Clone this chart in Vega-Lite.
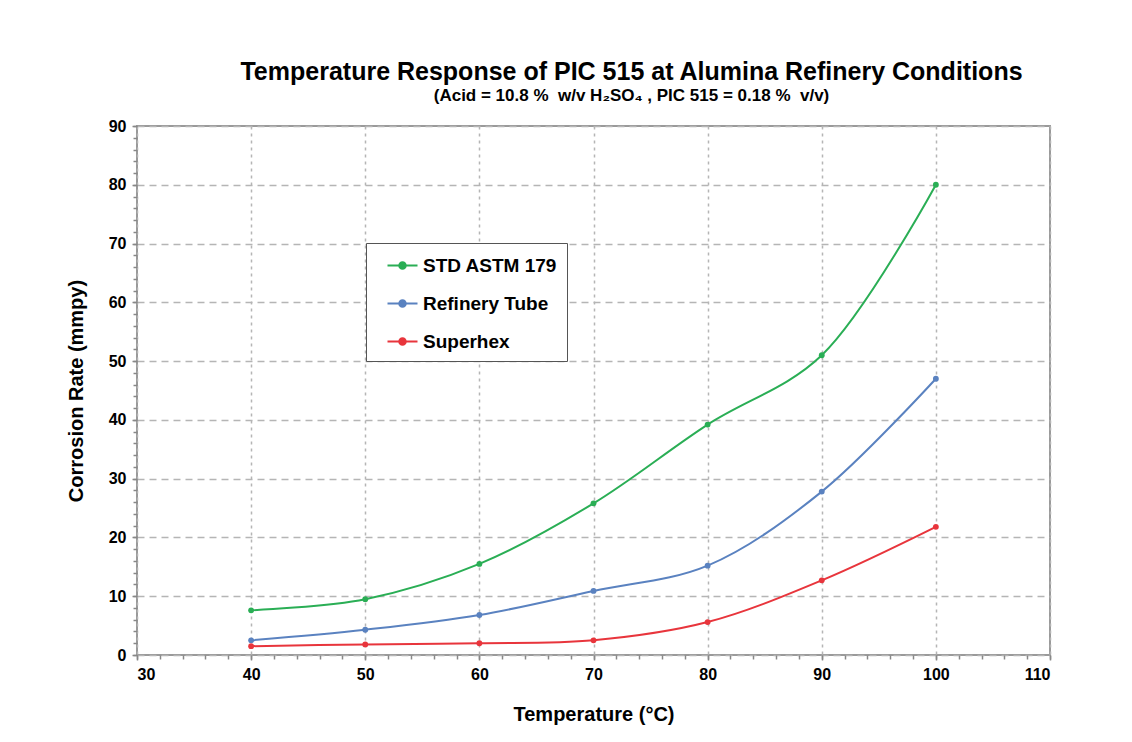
{
  "$schema": "https://vega.github.io/schema/vega-lite/v6.json",
  "width": 913,
  "height": 529,
  "autosize": {"type": "none"},
  "padding": {"left": 137, "top": 126, "right": 82, "bottom": 87},
  "background": "white",
  "config": {
    "view": {"stroke": "#9a9a9a", "strokeWidth": 2},
    "font": "Liberation Sans"
  },
  "title": {
    "text": "Temperature Response of PIC 515 at Alumina Refinery Conditions",
    "subtitle": "(Acid = 10.8 %\u00a0 w/v H₂SO₄ , PIC 515 = 0.18 %\u00a0 v/v)",
    "font": "Liberation Sans",
    "fontSize": 25,
    "fontWeight": "bold",
    "color": "#000000",
    "subtitleFont": "Liberation Sans",
    "subtitleFontSize": 17,
    "subtitleFontWeight": "bold",
    "subtitleColor": "#000000",
    "subtitlePadding": 3,
    "anchor": "middle",
    "frame": "group",
    "dx": 38,
    "offset": 14
  },
  "data": {
    "values": [
      {"temp": 40, "rate": 7.6, "series": "STD ASTM 179"},
      {"temp": 50, "rate": 9.5, "series": "STD ASTM 179"},
      {"temp": 60, "rate": 15.5, "series": "STD ASTM 179"},
      {"temp": 70, "rate": 25.8, "series": "STD ASTM 179"},
      {"temp": 80, "rate": 39.2, "series": "STD ASTM 179"},
      {"temp": 90, "rate": 51.0, "series": "STD ASTM 179"},
      {"temp": 100, "rate": 80.0, "series": "STD ASTM 179"},
      {"temp": 40, "rate": 2.5, "series": "Refinery Tube"},
      {"temp": 50, "rate": 4.3, "series": "Refinery Tube"},
      {"temp": 60, "rate": 6.8, "series": "Refinery Tube"},
      {"temp": 70, "rate": 10.9, "series": "Refinery Tube"},
      {"temp": 80, "rate": 15.2, "series": "Refinery Tube"},
      {"temp": 90, "rate": 27.8, "series": "Refinery Tube"},
      {"temp": 100, "rate": 47.0, "series": "Refinery Tube"},
      {"temp": 40, "rate": 1.5, "series": "Superhex"},
      {"temp": 50, "rate": 1.8, "series": "Superhex"},
      {"temp": 60, "rate": 2.0, "series": "Superhex"},
      {"temp": 70, "rate": 2.5, "series": "Superhex"},
      {"temp": 80, "rate": 5.6, "series": "Superhex"},
      {"temp": 90, "rate": 12.7, "series": "Superhex"},
      {"temp": 100, "rate": 21.8, "series": "Superhex"}
    ]
  },
  "layer": [
    {
      "mark": {"type": "line", "interpolate": "catmull-rom", "strokeWidth": 2},
      "encoding": {
        "x": {
          "field": "temp", "type": "quantitative",
          "scale": {"domain": [30, 110], "nice": false, "zero": false},
          "axis": {
            "orient": "bottom",
            "values": [30,32,34,36,38,40,42,44,46,48,50,52,54,56,58,60,62,64,66,68,70,72,74,76,78,80,82,84,86,88,90,92,94,96,98,100,102,104,106,108,110],
            "labels": false, "grid": false, "domain": false, "title": null,
            "ticks": true, "tickSize": 4, "tickColor": "#888", "tickWidth": 1.5
          }
        },
        "y": {
          "field": "rate", "type": "quantitative",
          "scale": {"domain": [0, 90], "nice": false},
          "axis": {
            "orient": "left",
            "values": [0,2,4,6,8,10,12,14,16,18,20,22,24,26,28,30,32,34,36,38,40,42,44,46,48,50,52,54,56,58,60,62,64,66,68,70,72,74,76,78,80,82,84,86,88,90],
            "labels": false, "grid": false, "domain": false, "title": null,
            "ticks": true, "tickSize": 4, "tickColor": "#888", "tickWidth": 1.5
          }
        },
        "color": {
          "field": "series", "type": "nominal",
          "scale": {
            "domain": ["STD ASTM 179", "Refinery Tube", "Superhex"],
            "range": ["#2aae55", "#5a82c0", "#e8353c"]
          },
          "legend": {
            "orient": "none",
            "legendX": 229,
            "legendY": 117,
            "title": null,
            "direction": "vertical",
            "strokeColor": "#555555",
            "fillColor": "white",
            "padding": 9,
            "rowPadding": 14,
            "symbolOffset": 14,
            "symbolType": "M-1.2,0H1.2M-0.26,0A0.26,0.26,0,1,1,0.26,0A0.26,0.26,0,1,1,-0.26,0",
            "symbolSize": 625,
            "symbolStrokeWidth": 2,
            "labelFont": "Liberation Sans",
            "labelFontSize": 19,
            "labelFontWeight": "bold",
            "labelColor": "#000000",
            "labelOffset": 7,
            "labelLimit": 300
          }
        },
        "detail": {"field": "series"}
      }
    },
    {
      "mark": {"type": "point", "filled": true, "size": 34, "opacity": 1},
      "encoding": {
        "x": {
          "field": "temp", "type": "quantitative",
          "axis": {
            "orient": "bottom",
            "values": [30, 40, 50, 60, 70, 80, 90, 100, 110],
            "title": "Temperature (°C)",
            "titleFont": "Liberation Sans",
            "titleFontSize": 20,
            "titleFontWeight": "bold",
            "titleColor": "#000000",
            "titlePadding": 22,
            "labelFont": "Liberation Sans",
            "labelFontSize": 16,
            "labelFontWeight": "bold",
            "labelColor": "#000000",
            "labelPadding": 6,
            "domain": false,
            "tickSize": 5,
            "tickColor": "#888",
            "tickWidth": 1.5,
            "grid": true,
            "gridColor": "#b5b5b5",
            "gridDash": [3, 4],
            "gridWidth": 1.5
          }
        },
        "y": {
          "field": "rate", "type": "quantitative",
          "axis": {
            "orient": "left",
            "values": [0, 10, 20, 30, 40, 50, 60, 70, 80, 90],
            "title": "Corrosion Rate (mmpy)",
            "titleFont": "Liberation Sans",
            "titleFontSize": 20,
            "titleFontWeight": "bold",
            "titleColor": "#000000",
            "titlePadding": 22,
            "labelFont": "Liberation Sans",
            "labelFontSize": 16,
            "labelFontWeight": "bold",
            "labelColor": "#000000",
            "labelPadding": 6,
            "domain": false,
            "tickSize": 5,
            "tickColor": "#888",
            "tickWidth": 1.5,
            "grid": true,
            "gridColor": "#b5b5b5",
            "gridDash": [7, 5],
            "gridWidth": 1.5
          }
        },
        "color": {"field": "series", "type": "nominal"}
      }
    }
  ],
  "resolve": {"axis": {"x": "independent", "y": "independent"}}
}
